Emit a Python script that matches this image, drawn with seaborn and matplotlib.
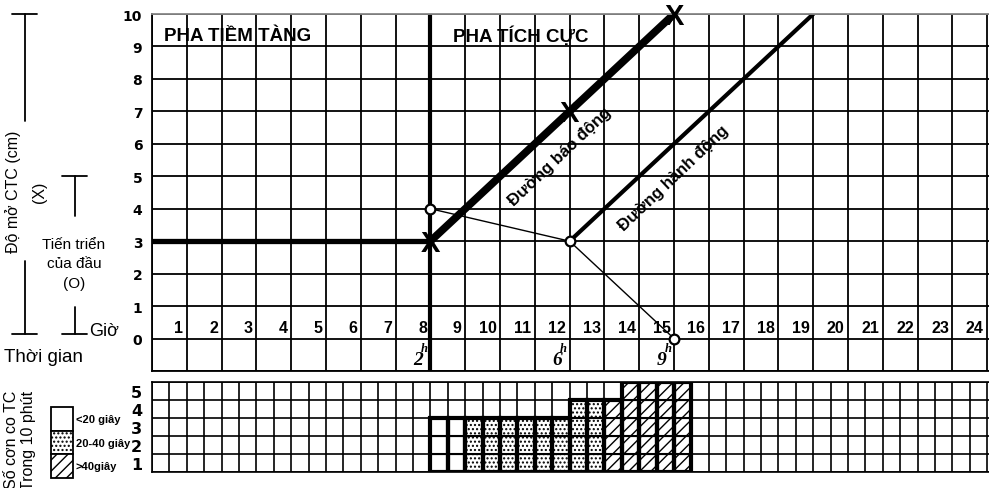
import matplotlib
matplotlib.use("Agg")
import numpy as np
import matplotlib.pyplot as plt
from matplotlib.patches import Rectangle
import seaborn as sns

# partograph data
hours = list(range(1, 25))
cervix_ticks = list(range(0, 11))
contraction_ticks = [1, 2, 3, 4, 5]

latent_x = [0, 8]
latent_y = [3, 3]
alert_x = [8, 15]
alert_y = [3, 10]
action_x = [12, 19]
action_y = [3, 10]

cervix_hours = [8, 12, 15]     # X marks
cervix_cm = [3, 7, 10]
head_hours = [8, 12, 15]       # O marks
head_level = [4, 3, 0]

elapsed_hours = [8, 12, 15]
elapsed_labels = ['2', '6', '9']

# contractions per 10 min, one column every half hour from hour 8
contraction_start = 8.0
contraction_counts = [3, 3, 3, 3, 3, 3, 3, 3, 4, 4, 4, 5, 5, 5, 5]
contraction_kind = ['<20'] * 2 + ['20-40'] * 8 + ['>40'] * 5
kind_labels = ['<20 giây', '20-40 giây', '>40giây']
hatch_map = {'<20': '', '20-40': '....', '>40': '///'}

sns.set_style("white")
plt.rcParams['font.family'] = ['Liberation Sans', 'DejaVu Sans']
plt.rcParams['hatch.linewidth'] = 1.0
for key in ['text.color', 'xtick.color', 'ytick.color', 'axes.labelcolor']:
    plt.rcParams[key] = 'black'

W, H = 989, 489
fig = plt.figure(figsize=(W / 100, H / 100), dpi=100)


def frac(x0, y0, x1, y1):
    return [x0 / W, 1 - y1 / H, (x1 - x0) / W, (y1 - y0) / H]


# ---- main grid (cervix / head) ----
ax = fig.add_axes(frac(152, 15, 989, 372))
ax.set_xlim(0, 24.05)
ax.set_ylim(-1, 10)
ax.set_xticks(range(0, 25))
ax.set_xticklabels([])
ax.set_yticks(range(-1, 11))
ax.set_yticklabels([''] + [str(v) for v in cervix_ticks], fontweight='bold',
                   fontsize=10, family='DejaVu Sans')
ax.tick_params(length=0, pad=7)
ax.grid(True, color='black', lw=1.3)
for s in ax.spines.values():
    s.set_color('black')
    s.set_linewidth(1.3)
ax.spines['top'].set_color('#888888')
ax.spines['right'].set_visible(False)

for h in hours:
    ax.text(h - 0.1, 0.33, str(h), ha='right', va='center', fontsize=11.5,
            fontweight='bold')

ax.axvline(8, color='black', lw=3)
sns.lineplot(x=latent_x, y=latent_y, ax=ax, color='black', lw=3.8)
sns.lineplot(x=alert_x, y=alert_y, ax=ax, color='black', lw=5.5)
sns.lineplot(x=action_x, y=action_y, ax=ax, color='black', lw=3)
ax.plot(head_hours, head_level, color='black', lw=1)
ax.plot(head_hours, head_level, 'o', ms=7, mfc='white', mec='black', mew=1.6)
for hx, cy in zip(cervix_hours, cervix_cm):
    ax.text(hx, cy - 0.05, 'X', ha='center', va='center', fontsize=21,
            fontweight='bold', clip_on=False)

for hx, lab in zip(elapsed_hours, elapsed_labels):
    ax.text(hx - 0.22, -0.66, lab, ha='right', va='center', fontsize=14,
            family='Liberation Serif', style='italic', fontweight='bold',
            zorder=6)
    ax.text(hx - 0.08, -0.3, 'h', ha='right', va='center', fontsize=9,
            family='Liberation Serif', style='italic', fontweight='bold',
            zorder=6)

ax.text(0.35, 9.35, 'PHA TIỀM TÀNG', fontsize=13.5, fontweight='bold',
        va='center')
ax.text(8.65, 9.35, 'PHA TÍCH CỰC', fontsize=13.5, fontweight='bold',
        va='center')
ax.text(11.72, 5.61, 'Đường báo động', rotation=43.5, fontsize=12,
        fontweight='bold', ha='center', va='center', rotation_mode='anchor')
ax.text(15.0, 4.97, 'Đường hành động', rotation=43.5, fontsize=12,
        fontweight='bold', ha='center', va='center', rotation_mode='anchor')

# ---- contraction grid ----
ax2 = fig.add_axes(frac(152, 383, 989, 473))
ax2.set_xlim(0, 24.05)
ax2.set_ylim(0, 5)
ax2.set_xticks(np.arange(0, 24.5, 0.5))
ax2.set_xticklabels([])
ax2.set_yticks(range(0, 6))
ax2.set_yticklabels([])
ax2.set_yticks([v - 0.5 for v in contraction_ticks], minor=True)
ax2.set_yticklabels([str(v) for v in contraction_ticks], minor=True,
                    fontweight='bold', fontsize=11.5, family='DejaVu Sans')
ax2.tick_params(which='both', length=0, pad=7)
ax2.grid(True, color='black', lw=1.2)
for s in ax2.spines.values():
    s.set_color('black')
    s.set_linewidth(1.2)
ax2.spines['right'].set_visible(False)

for i, (n, kind) in enumerate(zip(contraction_counts, contraction_kind)):
    x0 = contraction_start + 0.5 * i
    ax2.bar([x0] * n, [1] * n, bottom=list(range(n)), width=0.5, align='edge',
            color='white', edgecolor='black', hatch=hatch_map[kind], lw=1.5,
            zorder=3)
    ax2.bar(x0, n, width=0.5, align='edge', fill=False, edgecolor='black',
            lw=3, zorder=4)

# ---- left-hand annotations (pixel coordinates) ----
ov = fig.add_axes([0, 0, 1, 1], zorder=-1)
ov.set_xlim(0, W)
ov.set_ylim(H, 0)
ov.axis('off')

k = dict(color='black', lw=1.3)
ov.plot([12, 37], [15, 15], **k)
ov.plot([25, 25], [15, 122], **k)
ov.plot([25, 25], [262, 335], **k)
ov.plot([12, 37], [335, 335], **k)
ov.text(13, 192, 'Độ mở CTC (cm)', rotation=90, ha='center', va='center',
        fontsize=11.5)
ov.text(40, 192, '(X)', rotation=90, ha='center', va='center', fontsize=11.5)

ov.plot([62, 87], [177, 177], **k)
ov.plot([75, 75], [177, 217], **k)
ov.plot([75, 75], [308, 335], **k)
ov.plot([62, 87], [335, 335], **k)
ov.text(74, 245, 'Tiến triển', ha='center', va='center', fontsize=11)
ov.text(74, 264, 'của đầu', ha='center', va='center', fontsize=11)
ov.text(74, 284, '(O)', ha='center', va='center', fontsize=11)
ov.text(89, 331, 'Giờ', ha='left', va='center', fontsize=13)
ov.text(4, 357, 'Thời gian', ha='left', va='center', fontsize=13.5)

ov.text(12, 440, 'Số cơn co TC', rotation=90, ha='center', va='center',
        fontsize=11.5)
ov.text(29, 440, 'Trong 10 phút', rotation=90, ha='center', va='center',
        fontsize=11.5)
for j, (kind, lab) in enumerate(zip(['<20', '20-40', '>40'], kind_labels)):
    y0 = 408 + j * 23.7
    ov.add_patch(Rectangle((51, y0), 22, 23.7, facecolor='white',
                           edgecolor='black', lw=1.3, hatch=hatch_map[kind]))
    ov.text(76, y0 + 12, lab, ha='left', va='center', fontsize=8,
            fontweight='bold')

fig.savefig('out.png', dpi=100)
